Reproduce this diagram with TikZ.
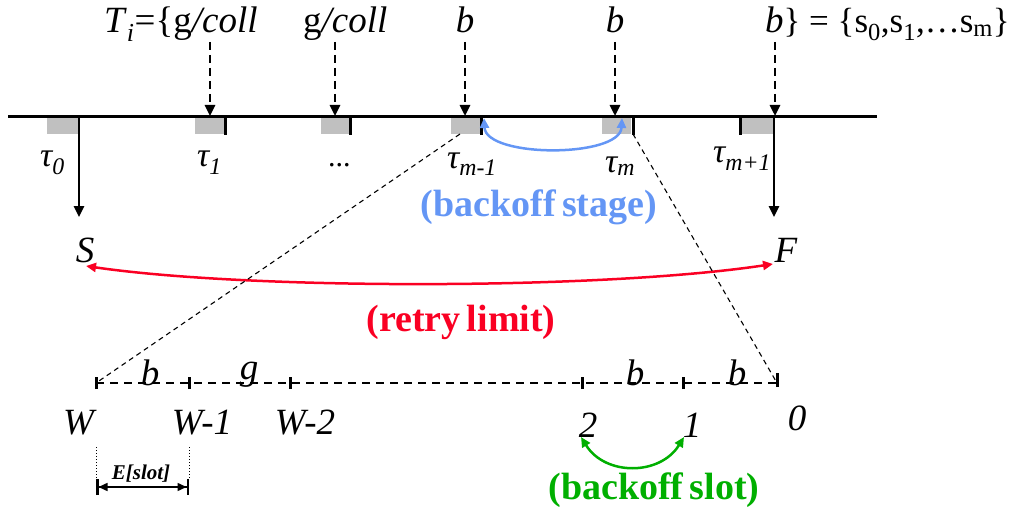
\documentclass[tikz,border=0pt]{standalone}
\usepackage{fontspec}
\setmainfont{Liberation Serif}
\usetikzlibrary{arrows.meta}
\definecolor{stageblue}{RGB}{100,150,245}
\definecolor{limitred}{RGB}{250,0,35}
\definecolor{slotgreen}{RGB}{0,175,0}
\definecolor{boxgray}{RGB}{192,192,192}
\tikzset{
  lbl/.style={inner sep=0pt, font=\fontsize{37}{40}\selectfont},
  taulbl/.style={inner sep=0pt, font=\fontsize{34}{38}\selectfont\itshape},
  tip/.style={-{Triangle[length=11pt,width=10pt]}},
  dtip/.style={{Triangle[length=10pt,width=9pt]}-{Triangle[length=10pt,width=9pt]}},
  dasharrow/.style={tip, line width=2.6pt, dash pattern=on 8pt off 5pt},
  thick line/.style={line width=3pt},
  thindash/.style={line width=1.1pt, dash pattern=on 5pt off 4pt},
  slotbox/.style={fill=boxgray},
  tick/.style={line width=3pt},
  curvelbl/.style={inner sep=0pt, font=\fontsize{38}{42}\selectfont\bfseries},
}
\begin{document}
\begin{tikzpicture}[x=1pt,y=-1pt]
\useasboundingbox (0,0) rectangle (1020,508);
% timeline
\coordinate (tlA) at (8,117);
\coordinate (tlB) at (877,117);
\draw[thick line] (tlA) -- (tlB);
% boxes
\fill[slotbox] (47,118.5) rectangle (79,134);
\fill[slotbox] (195,118.5) rectangle (224,134);
\fill[slotbox] (321,118.5) rectangle (349,134);
\fill[slotbox] (451,118.5) rectangle (480,134);
\fill[slotbox] (602,118.5) rectangle (631,134);
\fill[slotbox] (742,118.5) rectangle (773,134);
% ticks
\draw[tick] (225,117) -- (225,135);
\draw[tick] (350,117) -- (350,135);
\draw[tick] (481,117) -- (481,135);
\draw[tick] (633,117) -- (633,135);
\draw[tick] (740,117) -- (740,135);
% top labels
\node[lbl, anchor=base west] (lab1) at (104,33) {\textit{T}\textsubscript{\textit{i}}=\{g\textit{/coll}};
\node[lbl, anchor=base west] (lab2) at (303,33) {g\textit{/coll}};
\node[lbl, anchor=base] (lab3) at (465,33) {\textit{b}};
\node[lbl, anchor=base] (lab4) at (615,33) {\textit{b}};
\node[lbl, anchor=base west] (lab5) at (765,33) {\textit{b}{\fontsize{35}{38}\selectfont\} = \{s\textsubscript{0},s\textsubscript{1},…s\textsubscript{m}\}}};
% dashed arrows
\coordinate (a1s) at (210,42); \coordinate (a1e) at (210,116);
\coordinate (a2s) at (335,42); \coordinate (a2e) at (335,116);
\coordinate (a3s) at (465,42); \coordinate (a3e) at (465,116);
\coordinate (a4s) at (615,42); \coordinate (a4e) at (615,116);
\coordinate (a5s) at (775,42); \coordinate (a5e) at (775,116);
\foreach \i in {1,...,5} {\draw[dasharrow] (a\i s) -- (a\i e);}
% tau labels
\node[taulbl, anchor=base west] (t0) at (40,167) {τ\textsubscript{0}};
\node[taulbl, anchor=base west] (t1) at (197,167) {τ\textsubscript{1}};
\node[lbl, anchor=base west, font=\fontsize{30}{32}\selectfont] (tdots) at (328,167) {...};
\node[taulbl, anchor=base west] (tm1) at (447,168) {τ\textsubscript{m-1}};
\node[taulbl, anchor=base west] (tm) at (605,172) {τ\textsubscript{m}};
\node[taulbl, anchor=base west] (tmp1) at (713,163) {τ\textsubscript{m+1}};
% S and F
\node[lbl, anchor=base] (S) at (85,262) {\textit{S}};
\node[lbl, anchor=base] (F) at (786,262) {\textit{F}};
\coordinate (vS) at (79,117);
\coordinate (vF) at (774,117);
\draw[line width=2.5pt, tip] (vS) -- (79,217);
\draw[line width=2.5pt, tip] (vF) -- (774,217);
% blue backoff stage arc
\coordinate (bsA) at (622,118);
\coordinate (bsB) at (484,118);
\draw[stageblue, line width=2.5pt, dtip] (bsA) .. controls (620,158) and (486,158) .. (bsB);
\node[curvelbl, text=stageblue] (stage) at (539,207) {(backoff\,stage)};
% red retry limit arc
\coordinate (rlS) at (86,266);
\coordinate (rlF) at (773,264);
\draw[limitred, line width=2.5pt, dtip] (rlF) .. controls (600,290) and (250,290) .. (rlS);
\node[curvelbl, text=limitred] (retry) at (461,322) {(retry\,limit)};
% bottom slot line
\coordinate (sW) at (96,383);
\coordinate (sW1) at (189,383);
\coordinate (sW2) at (290,383);
\coordinate (s2) at (582,383);
\coordinate (s1) at (683,383);
\coordinate (s0) at (777,383);
\draw[line width=2.5pt, dash pattern=on 8pt off 6pt] (sW) -- (s0);
\foreach \c in {sW,sW1,sW2,s2,s1} {\draw[tick] ([yshift=-6pt]\c) -- ([yshift=6pt]\c);}
\draw[tick] ([yshift=-4pt]s0) -- ([yshift=10pt]s0);
% thin dashed zoom lines
\coordinate (zA) at (460,134);
\coordinate (zB) at (633,134);
\draw[thindash] (zA) -- (sW);
\draw[thindash] (zB) -- (s0);
% slot labels
\node[lbl, anchor=base] (lb1) at (150,385) {\textit{b}};
\node[lbl, anchor=base] (lg) at (249,379) {\textit{g}};
\node[lbl, anchor=base] (lb2) at (635,385) {\textit{b}};
\node[lbl, anchor=base] (lb3) at (737,385) {\textit{b}};
\node[lbl, anchor=base] (nW) at (80,434) {\textit{W}};
\node[lbl, anchor=base] (nW1) at (202,434) {\textit{W-1}};
\node[lbl, anchor=base] (nW2) at (305,434) {\textit{W-2}};
\node[lbl, anchor=base] (n2) at (588,437) {\textit{2}};
\node[lbl, anchor=base] (n1) at (692,437) {\textit{1}};
\node[lbl, anchor=base] (n0) at (797,430) {\textit{0}};
% green backoff slot arc
\coordinate (gsA) at (581,437);
\coordinate (gsB) at (684,437);
\draw[slotgreen, line width=2.5pt, dtip] (gsA) .. controls (605,476) and (660,476) .. (gsB);
\node[curvelbl, text=slotgreen] (slot) at (654,490) {(backoff\,slot)};
% E[slot]
\coordinate (eA) at (96,487);
\coordinate (eB) at (189,487);
\draw[dotted, line width=1pt] (96,447) -- (96,478);
\draw[dotted, line width=1pt] (189,447) -- (189,478);
\draw[line width=1.5pt, {Bar[width=16pt,line width=2.5pt]Triangle[length=9pt,width=8pt]}-{Triangle[length=9pt,width=8pt]Bar[width=16pt,line width=2.5pt]}] (eA) -- (eB);
\node[inner sep=0pt, font=\fontsize{21}{24}\selectfont\bfseries\itshape] (eslot) at (141,474) {E[slot]};
\end{tikzpicture}
\end{document}
